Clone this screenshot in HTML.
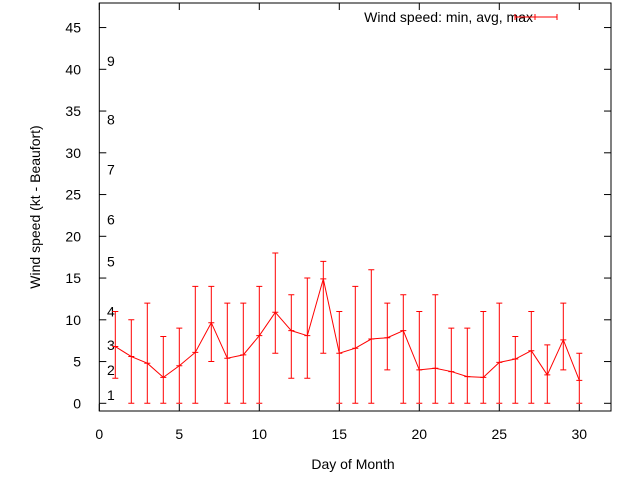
<!DOCTYPE html>
<html><head><meta charset="utf-8"><style>
body{margin:0;background:#fff}
svg{display:block;font-family:"Liberation Sans",sans-serif;font-size:14px}
</style></head><body>
<svg id="c" width="640" height="480"></svg>
<script>
const days=[1,2,3,4,5,6,7,8,9,10,11,12,13,14,15,16,17,18,19,20,21,22,23,24,25,26,27,28,29,30];
const avgs=[6.8,5.6,4.8,3.1,4.5,6.1,9.65,5.4,5.8,8.1,10.9,8.7,8.1,14.9,6.0,6.6,7.7,7.85,8.7,4.0,4.2,3.8,3.2,3.1,4.9,5.3,6.3,3.4,7.6,2.75];
const mins=[3,0,0,0,0,0,5,0,0,0,6,3,3,6,0,0,0,4,0,0,0,0,0,0,0,0,0,0,4,0];
const maxs=[11,10,12,8,9,14,14,12,12,14,18,13,15,17,11,14,16,12,13,11,13,9,9,11,12,8,11,7,12,6];
const xTicks=[0,5,10,15,20,25,30];
const yTicks=[0,5,10,15,20,25,30,35,40,45];
const bftLabels=["1","2","3","4","5","6","7","8","9"];
const bftKnots=[1,4,7,11,17,22,28,34,41];
const L=99.3,R=611,T=3,B=411;
const X=v=>L+v*16, Y=v=>403.3-v*8.35;
const svg=document.getElementById('c');
const NS='http://www.w3.org/2000/svg';
function mk(t,a,txt){const e=document.createElementNS(NS,t);for(const k in a)e.setAttribute(k,a[k]);if(txt!=null)e.textContent=txt;svg.appendChild(e);return e;}
let e;
e=mk('rect',{x:L,y:T,width:R-L,height:B-T,fill:'none',stroke:'#000','stroke-width':1});


xTicks.forEach(v=>{
 e=mk('line',{x1:X(v),x2:X(v),y1:B,y2:B-7,stroke:'#000'});
 
 
 e=mk('line',{x1:X(v),x2:X(v),y1:T,y2:T+7,stroke:'#000'});
 
 
 e=mk('text',{x:X(v),y:439,'text-anchor':'middle'},String(v));
 
 
});
yTicks.forEach(v=>{
 e=mk('line',{x1:L,x2:L+7,y1:Y(v),y2:Y(v),stroke:'#000'});
 
 
 e=mk('line',{x1:R,x2:R-7,y1:Y(v),y2:Y(v),stroke:'#000'});
 
 
 e=mk('text',{x:81,y:Y(v)+5,'text-anchor':'end'},String(v));
 
 
});
bftLabels.forEach((s,i)=>{
 e=mk('text',{x:107,y:Y(bftKnots[i])+5},s);
 
 
});
e=mk('text',{x:353,y:469,'text-anchor':'middle'},'Day of Month');


e=mk('text',{x:40,y:207,'text-anchor':'middle',transform:'rotate(-90 40 207)'},'Wind speed (kt - Beaufort)');


// error bars
days.forEach((d,i)=>{
 const x=X(d);
 e=mk('path',{d:`M${x},${Y(mins[i])}V${Y(maxs[i])}M${x-3},${Y(mins[i])}h6M${x-3},${Y(maxs[i])}h6M${x-3},${Y(avgs[i])}h6`,stroke:'#f00',fill:'none','stroke-width':1});
 
 
});
e=mk('polyline',{points:days.map((d,i)=>X(d)+','+Y(avgs[i])).join(' '),fill:'none',stroke:'#f00','stroke-width':1});


e=mk('text',{x:533,y:22,'text-anchor':'end'},'Wind speed: min, avg, max');


e=mk('path',{d:'M515,17H557M515,14v6M557,14v6M535,14v6',stroke:'#f00',fill:'none'});


</script>
</body></html>
